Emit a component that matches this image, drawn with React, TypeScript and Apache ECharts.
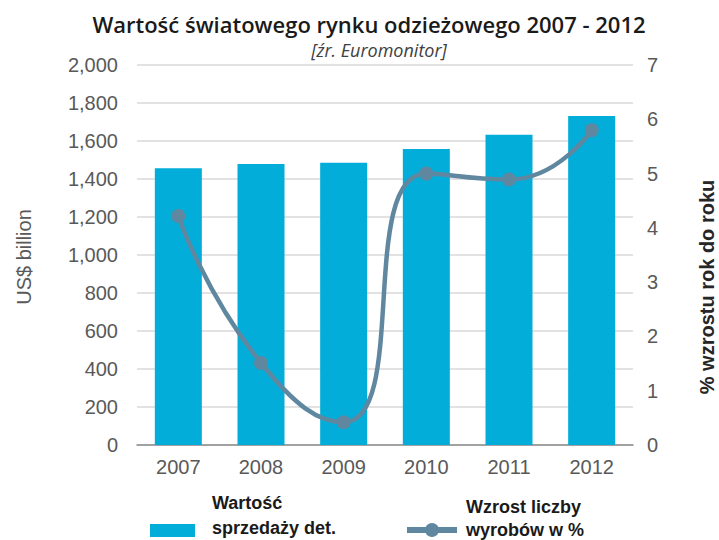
import React, { useEffect, useRef } from "react";
import * as echarts from "echarts";

const years = ["2007", "2008", "2009", "2010", "2011", "2012"];
const salesValue = [1456, 1479, 1486, 1558, 1633, 1732];
const growthPct = [4.22, 1.51, 0.42, 5.0, 4.89, 5.8];
const barName = "Wartość\nsprzedaży det.";
const lineName = "Wzrost liczby\nwyrobów w %";

const BAR_COLOR = "#02aed9";
const LINE_COLOR = "#5f87a0";

export default function App() {
  const ref = useRef<HTMLDivElement>(null);
  useEffect(() => {
    if (!ref.current) return;
    const chart = echarts.init(ref.current, null, { renderer: "svg" });
    const labelFont = "'Liberation Sans', Arial, sans-serif";
    chart.setOption({
      animation: false,
      backgroundColor: "#ffffff",
      title: [
        {
          text: "Wartość światowego rynku odzieżowego 2007 - 2012",
          left: 364,
          textAlign: "center",
          top: 8,
          textStyle: { fontFamily: "'Open Sans', sans-serif", fontWeight: 600, fontSize: 22, color: "#1a1a1a" },
        },
        {
          text: "[źr. Euromonitor]",
          left: 374,
          textAlign: "center",
          top: 36,
          textStyle: { fontFamily: "'Open Sans', sans-serif", fontStyle: "italic", fontWeight: 400, fontSize: 18, color: "#404040" },
        },
      ],
      grid: { left: 137, right: 86, top: 65, bottom: 95 },
      xAxis: {
        type: "category",
        data: years,
        axisTick: { show: false },
        axisLine: { lineStyle: { color: "#8c8c8c", width: 1.5 } },
        axisLabel: { fontFamily: labelFont, fontSize: 20, color: "#595959", margin: 12 },
      },
      yAxis: [
        {
          type: "value",
          min: 0,
          max: 2000,
          interval: 200,
          axisLabel: {
            fontFamily: labelFont,
            fontSize: 20,
            color: "#595959",
            margin: 19,
            formatter: (v: number) => v.toLocaleString("en-US"),
          },
          splitLine: { lineStyle: { color: "#d9d9d9", width: 1.5 } },
          axisLine: { show: false },
          axisTick: { show: false },
        },
        {
          type: "value",
          min: 0,
          max: 7,
          interval: 1,
          axisLabel: { fontFamily: labelFont, fontSize: 20, color: "#595959", margin: 14 },
          splitLine: { show: false },
          axisLine: { show: false },
          axisTick: { show: false },
        },
      ],
      graphic: [
        {
          type: "text",
          x: 24,
          y: 257,
          rotation: Math.PI / 2,
          style: { text: "US$ billion", fontFamily: labelFont, fontSize: 20, fill: "#595959", align: "center", verticalAlign: "middle" },
        },
        {
          type: "text",
          x: 707,
          y: 287,
          rotation: Math.PI / 2,
          style: { text: "% wzrostu rok do roku", fontFamily: labelFont, fontWeight: "bold", fontSize: 20, fill: "#262626", align: "center", verticalAlign: "middle" },
        },
        // legend: bar
        { type: "rect", shape: { x: 150, y: 524, width: 45, height: 13 }, style: { fill: BAR_COLOR } },
        {
          type: "text",
          x: 212,
          y: 490,
          style: { text: barName, fontFamily: labelFont, fontWeight: "bold", fontSize: 18, lineHeight: 25, fill: "#1a1a1a", align: "left", verticalAlign: "top" },
        },
        // legend: line
        { type: "line", shape: { x1: 407, y1: 530, x2: 457, y2: 530 }, style: { stroke: LINE_COLOR, lineWidth: 6 } },
        { type: "circle", shape: { cx: 432, cy: 530, r: 7 }, style: { fill: LINE_COLOR } },
        {
          type: "text",
          x: 466,
          y: 495,
          style: { text: lineName, fontFamily: labelFont, fontWeight: "bold", fontSize: 18, lineHeight: 23, fill: "#1a1a1a", align: "left", verticalAlign: "top" },
        },
      ],
      series: [
        {
          name: barName,
          type: "bar",
          data: salesValue,
          barWidth: 47,
          itemStyle: { color: BAR_COLOR },
        },
        {
          name: lineName,
          type: "line",
          yAxisIndex: 1,
          data: growthPct,
          smooth: 0.55,
          symbol: "circle",
          symbolSize: 14,
          lineStyle: { color: LINE_COLOR, width: 4.5 },
          itemStyle: { color: LINE_COLOR },
        },
      ],
    });
    return () => chart.dispose();
  }, []);
  return <div ref={ref} style={{ width: 719, height: 540, position: "absolute", left: 0, top: 0 }} />;
}
